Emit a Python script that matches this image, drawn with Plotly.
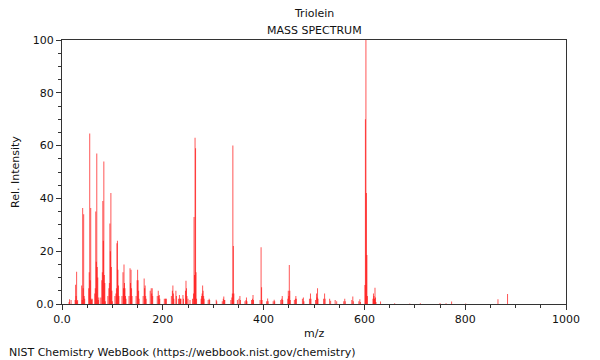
import plotly.graph_objects as go

# m/z values and relative intensities
mz = [14, 15, 18, 26, 27, 28, 29, 30, 31,
      39, 40, 41, 42, 43, 44, 45,
      53, 54, 55, 56, 57, 58, 59, 60,
      65, 66, 67, 68, 69, 70, 71, 72, 73,
      77, 79, 80, 81, 82, 83, 84, 85, 86,
      91, 93, 94, 95, 96, 97, 98, 99, 100,
      105, 107, 108, 109, 110, 111, 112, 113,
      119, 121, 122, 123, 124, 125, 126, 127,
      133, 135, 136, 137, 138, 139,
      147, 149, 150, 151, 152, 153,
      161, 163, 164, 165, 166, 167,
      175, 177, 178, 179, 180,
      189, 191, 192, 193, 194,
      203, 205, 206, 207,
      217, 219, 220, 221, 222,
      226, 227, 231, 233, 234, 235, 236, 240, 241,
      245, 246, 247, 248,
      250, 254, 259, 261, 262, 263, 264, 265, 266, 267,
      276, 277, 278, 279, 280, 281, 282,
      290, 292, 293, 306, 307,
      318, 320, 321, 322, 323,
      335, 337, 338, 339, 340, 341,
      348, 351, 353, 354, 363, 365, 366, 367,
      376, 378, 379, 380,
      393, 395, 396, 397,
      406, 408, 409, 419, 421, 422,
      434, 436, 437, 438, 448, 449, 450, 451, 452, 453,
      461, 463, 464, 465, 477, 479, 480,
      491, 493, 494, 503, 505, 506, 507, 508,
      519, 521, 522, 531, 533, 542, 545, 559, 561, 562,
      575, 577, 578, 589, 591, 592,
      601, 602, 603, 604, 605, 606,
      617, 618, 619, 620, 621, 622, 623, 632,
      660, 690, 711, 750, 762, 773, 801, 865, 884]

intensity = [0.8, 1.8, 1.5, 1.5, 7.3, 3.0, 12.2, 1.0, 1.5,
             7.0, 1.5, 36.4, 6.0, 34.0, 3.0, 2.0,
             6.0, 12.0, 64.6, 9.0, 36.4, 2.0, 1.5, 2.0,
             4.0, 6.0, 35.0, 16.0, 57.0, 14.0, 10.0, 1.5, 2.5,
             2.5, 9.0, 12.0, 39.0, 24.0, 54.0, 11.0, 8.0, 1.0,
             3.0, 6.0, 8.0, 30.5, 20.0, 42.0, 14.0, 5.0, 1.0,
             3.0, 4.0, 6.0, 23.0, 24.0, 13.0, 7.0, 3.0,
             3.0, 12.0, 6.0, 15.0, 8.0, 6.0, 3.0, 2.0,
             3.0, 13.5, 8.0, 13.0, 6.0, 3.0,
             3.0, 9.0, 13.0, 9.0, 5.0, 2.0,
             3.0, 9.7, 6.0, 7.0, 3.0, 2.0,
             5.0, 6.0, 4.0, 6.0, 3.0,
             3.0, 5.0, 3.0, 3.4, 2.0,
             2.0, 2.0, 2.0, 2.0,
             3.0, 5.0, 7.0, 4.0, 2.0,
             5.0, 3.0, 2.0, 3.4, 2.0, 2.0, 2.0, 3.4, 2.0,
             5.0, 8.8, 6.0, 3.0,
             2.0, 1.5, 2.0, 4.0, 33.0, 11.0, 63.0, 59.0, 12.0, 2.0,
             2.0, 3.0, 4.0, 7.0, 5.0, 3.0, 2.0,
             1.5, 2.0, 1.5, 1.6, 1.0,
             1.0, 2.0, 2.8, 1.5, 1.5,
             1.5, 2.5, 4.0, 60.0, 22.0, 4.0,
             1.5, 2.0, 3.0, 1.5, 1.0, 1.5, 2.5, 1.0,
             1.5, 2.0, 3.4, 1.5,
             1.5, 21.5, 6.3, 1.5,
             1.0, 2.1, 1.0, 1.0, 1.6, 1.0,
             1.5, 2.0, 3.0, 1.5, 2.0, 5.0, 3.0, 14.8, 5.0, 1.5,
             1.5, 2.0, 3.0, 2.0, 2.0, 2.5, 1.0,
             2.0, 4.0, 2.0, 1.5, 4.0, 2.5, 6.0, 2.0,
             2.0, 4.0, 2.0, 2.0, 1.2, 1.5, 1.0, 1.0, 2.0, 1.0,
             1.5, 2.8, 1.0, 1.0, 1.8, 0.8,
             7.2, 70.0, 100.0, 42.0, 18.6, 3.0,
             2.0, 4.0, 3.0, 2.0, 6.2, 2.5, 0.8, 0.9,
             0.3, 0.2, 0.3, 0.4, 0.3, 0.9, 0.2, 1.8, 3.8]

x_ticks = [0, 200, 400, 600, 800, 1000]
x_tick_labels = ["0.0", "200", "400", "600", "800", "1000"]
y_ticks = [0, 20, 40, 60, 80, 100]
y_tick_labels = ["0.0", "20", "40", "60", "80", "100"]

FONT = "DejaVu Sans"
AX = "#333333"

fig = go.Figure()
fig.add_trace(go.Bar(
    x=mz, y=intensity, width=2,
    marker=dict(color="rgba(255,0,0,0.66)", line=dict(width=0)),
    hoverinfo="skip",
))

# page body has an 8px margin, so the figure is sized 592x352
fig.update_layout(
    width=592, height=352,
    margin=dict(l=54, r=34, t=32, b=56),
    paper_bgcolor="white", plot_bgcolor="white",
    showlegend=False,
    font=dict(family=FONT, size=11, color="#111111"),
    template="none",
)

fig.update_xaxes(
    range=[0, 1000], tickmode="array", tickvals=x_ticks, ticktext=x_tick_labels,
    ticks="outside", ticklen=5, tickcolor=AX, tickwidth=1,
    minor=dict(tickmode="linear", tick0=0, dtick=50, ticks="outside", ticklen=3, tickcolor=AX),
    showline=True, mirror=True, linecolor=AX, linewidth=1,
    showgrid=False, zeroline=False, tickfont=dict(size=11, family=FONT),
)
fig.update_yaxes(
    range=[0, 100], tickmode="array", tickvals=y_ticks, ticktext=y_tick_labels,
    ticks="outside", ticklen=5, tickcolor=AX, tickwidth=1,
    minor=dict(tickmode="linear", tick0=0, dtick=5, ticks="outside", ticklen=3, tickcolor=AX),
    showline=True, mirror=True, linecolor=AX, linewidth=1,
    showgrid=False, zeroline=False, tickfont=dict(size=11, family=FONT),
)

ann = dict(showarrow=False, font=dict(family=FONT, size=11, color="#111111"))
fig.add_annotation(text="Triolein", xref="paper", yref="paper", x=0.5, y=1,
                   xanchor="center", yanchor="middle", yshift=27, **ann)
fig.add_annotation(text="MASS SPECTRUM", xref="paper", yref="paper", x=0.5, y=1,
                   xanchor="center", yanchor="middle", yshift=10, **ann)
fig.add_annotation(text="m/z", xref="paper", yref="paper", x=0.5, y=0,
                   xanchor="center", yanchor="middle", yshift=-29, **ann)
fig.add_annotation(text="Rel. Intensity", xref="paper", yref="paper", x=0, y=0.5,
                   xanchor="center", yanchor="middle", xshift=-47, textangle=-90, **ann)
fig.add_annotation(text="NIST Chemistry WebBook (https://webbook.nist.gov/chemistry)",
                   xref="paper", yref="paper", x=0, y=0,
                   xanchor="left", yanchor="middle", xshift=-55, yshift=-48, **ann)

fig.write_html("out.html")
